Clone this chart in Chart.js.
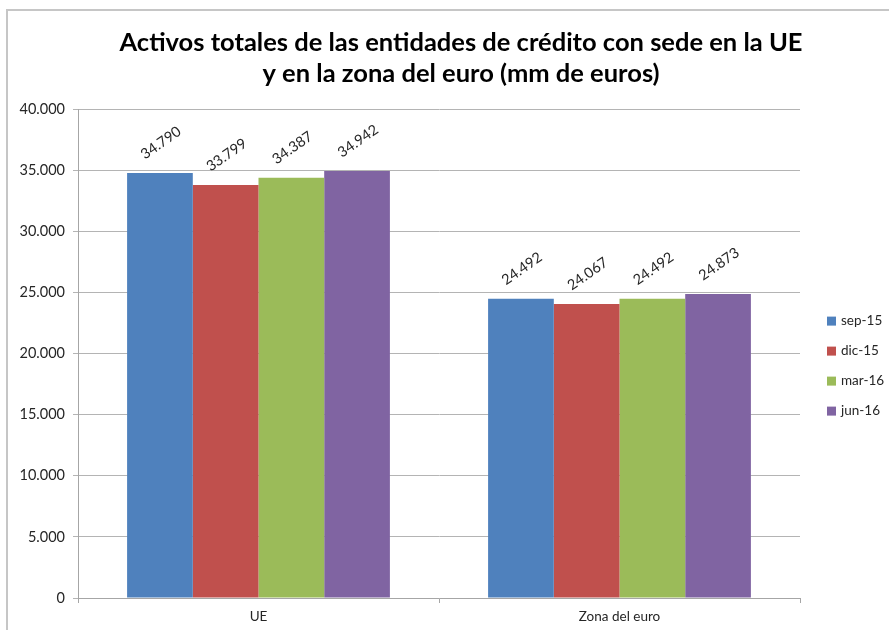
<!DOCTYPE html>
<html><head><meta charset="utf-8">
<script src="https://cdn.jsdelivr.net/npm/chart.js@4/dist/chart.umd.min.js"></script>
<style>
html,body{margin:0;padding:0;overflow:hidden;background:#fff;width:889px;height:630px;}
#wrap{position:absolute;left:0;top:0;width:922px;height:630px;}
#frame{position:absolute;left:6px;top:9px;width:940px;height:680px;border:2px solid #c6c6c6;pointer-events:none;}
</style></head><body>
<div id="wrap"><canvas id="c" width="922" height="630"></canvas></div>
<div id="frame"></div>
<script>
const categories = ['UE', 'Zona del euro'];
const seriesNames = ['sep-15', 'dic-15', 'mar-16', 'jun-16'];
const sep15 = [34790, 24492];
const dic15 = [33799, 24067];
const mar16 = [34387, 24492];
const jun16 = [34942, 24873];
const seriesColors = ['#4F81BD', '#C0504D', '#9BBB59', '#8064A2'];
const titleLines = ['Activos totales de las entidades de crédito con sede en la UE', 'y en la zona del euro (mm de euros)'];
const yMin = 0, yMax = 40000, yStep = 5000;

const FONT = 'Lato, "Open Sans", sans-serif';
function fmt(v) { return String(Math.round(v)).replace(/\B(?=(\d{3})+(?!\d))/g, '.'); }

const seriesValues = [sep15, dic15, mar16, jun16];
const datasets = seriesNames.map((n, i) => ({
  label: n, data: seriesValues[i], backgroundColor: seriesColors[i],
  borderWidth: 0, barPercentage: 1.0, categoryPercentage: 0.728
}));

const dataLabels = {
  id: 'dataLabels',
  afterDatasetsDraw(chart) {
    const ctx = chart.ctx;
    ctx.save();
    ctx.font = '14.5px ' + FONT;
    ctx.fillStyle = '#262626';
    ctx.textAlign = 'center';
    ctx.textBaseline = 'middle';
    chart.data.datasets.forEach((ds, di) => {
      const meta = chart.getDatasetMeta(di);
      meta.data.forEach((el, i) => {
        ctx.save();
        ctx.translate(el.x + 1, el.y - 30);
        ctx.rotate(-35 * Math.PI / 180);
        ctx.fillText(fmt(ds.data[i]), 0, 0);
        ctx.restore();
      });
    });
    ctx.restore();
  }
};

const sideLegend = {
  id: 'sideLegend',
  afterDraw(chart) {
    const ctx = chart.ctx;
    const ca = chart.chartArea;
    const x0 = ca.right + 27;
    const n = chart.data.datasets.length;
    const gap = 30;
    const yc = (ca.top + ca.bottom) / 2 + 12.5;
    ctx.save();
    ctx.font = '13.5px ' + FONT;
    ctx.textBaseline = 'middle';
    ctx.textAlign = 'left';
    chart.data.datasets.forEach((ds, i) => {
      const y = yc + (i - (n - 1) / 2) * gap;
      ctx.fillStyle = ds.backgroundColor;
      ctx.fillRect(x0, y - 4.5, 9, 9);
      ctx.fillStyle = '#262626';
      ctx.fillText(ds.label, x0 + 14, y);
    });
    ctx.restore();
  }
};

new Chart(document.getElementById('c'), {
  type: 'bar',
  data: { labels: categories, datasets },
  options: {
    responsive: false,
    animation: false,
    layout: { padding: 0 },
    plugins: {
      legend: { display: false },
      tooltip: { enabled: false },
      title: {
        display: true, text: titleLines, color: '#000',
        font: { family: FONT, size: 25.5, weight: 'bold', lineHeight: 1.22 },
        padding: { top: 27, bottom: 20 }
      }
    },
    scales: {
      x: {
        offset: true,
        grid: { display: true, offset: true, drawOnChartArea: false, drawTicks: true, tickLength: 5, color: '#a6a6a6' },
        border: { display: true, color: '#a6a6a6' },
        ticks: { color: '#262626', font: { family: FONT, size: 13.5 }, padding: 6 },
        afterFit(s) { s.height = 32; }
      },
      y: {
        min: yMin, max: yMax,
        grid: { color: '#b4b4b4', tickLength: 5 },
        border: { display: true, color: '#a6a6a6' },
        ticks: { stepSize: yStep, color: '#262626', font: { family: FONT, size: 14.5 }, padding: 8, callback: v => fmt(v) },
        afterFit(s) { s.width = 78; }
      },
      legendSpace: {
        type: 'linear', position: 'right', display: true,
        grid: { display: false }, border: { display: false },
        ticks: { display: false },
        afterFit(s) { s.width = 122; }
      }
    }
  },
  plugins: [dataLabels, sideLegend]
});
</script>
</body></html>
